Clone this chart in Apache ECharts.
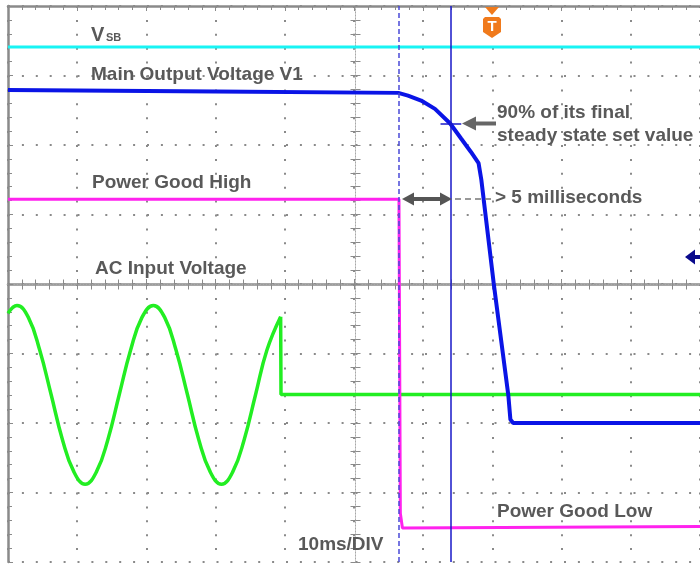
<!DOCTYPE html>
<html>
<head>
<meta charset="utf-8">
<script src="https://cdn.jsdelivr.net/npm/echarts@6/dist/echarts.min.js"></script>
<style>
html,body{margin:0;padding:0;background:#fff;}
#chart{width:700px;height:565px;}
</style>
</head>
<body>
<div id="chart"></div>
<script>
// ---- data (time in ms, amplitude in divisions) ----
const vsb = [[0, 3.41], [100, 3.41]];
const v1 = [[0, 2.79], [30, 2.77], [56.4, 2.75], [57.8, 2.71], [59.7, 2.64], [61.7, 2.52], [63.9, 2.31],
            [65.5, 2.09], [66.9, 1.9], [68.0, 1.74], [68.4, 1.5], [70.2, 0.0], [72.3, -1.6],
            [72.6, -1.95], [73.0, -2.0], [100, -2.0]];
const pgood = [[0, 1.22], [56.5, 1.22], [56.7, -3.3], [57.0, -3.51], [100, -3.49]];
const acOn = [[0, -0.42], [1.3, -0.31], [2.94, -0.48], [4.58, -0.95], [6.23, -1.59], [7.87, -2.24],
              [9.51, -2.70], [11.15, -2.88], [12.79, -2.70], [14.43, -2.24], [16.08, -1.59],
              [17.72, -0.95], [19.36, -0.48], [21.0, -0.31], [22.64, -0.48], [24.28, -0.95],
              [25.93, -1.59], [27.57, -2.24], [29.21, -2.70], [30.85, -2.88], [32.49, -2.70],
              [34.13, -2.24], [35.78, -1.59], [37.42, -0.95], [39.4, -0.47]];
const acOff = [[39.4, -0.47], [39.45, -1.59], [100, -1.59]];
const cursorA = 56.5;   // dashed cursor (ms)
const cursorB = 64.0;   // solid cursor (ms)
const crossY = 2.31;    // 90% level (div)
const crossX = [62.5, 65.5];
const xTicks = [0, 100, 10];  // min, max, interval (10 ms / div)
const yTicks = [-4, 4, 1];

const chart = echarts.init(document.getElementById('chart'), null, {renderer: 'canvas'});
const gridCol = '#8a8a8a';
const FONT = '"Liberation Sans", Arial, sans-serif';
const TXT = '#595959';

function borderAxis(extra) {
  return Object.assign({
    type: 'value', min: xTicks[0], max: xTicks[1], interval: xTicks[2],
    axisLine: {show: true, lineStyle: {color: gridCol, width: 2.5}},
    axisTick: {show: true, inside: true, length: 5, lineStyle: {color: gridCol, width: 1}},
    minorTick: {show: true, splitNumber: 5, length: 4, lineStyle: {color: gridCol, width: 1}},
    axisLabel: {show: false},
    splitLine: {show: false}
  }, extra);
}
function centerAxis(extra) {
  return Object.assign({
    type: 'value',
    axisLine: {show: true, onZero: false, lineStyle: {color: '#a8a8a8', width: 1, type: [1, 2]}},
    axisTick: {show: true, inside: true, length: 5, lineStyle: {color: '#8a8a8a', width: 1}},
    minorTick: {show: true, splitNumber: 5, length: 5, lineStyle: {color: '#8a8a8a', width: 1}},
    axisLabel: {show: false},
    splitLine: {show: false}
  }, extra);
}
const hidden = (gi, min, max) => ({type: 'value', gridIndex: gi, show: false, min: min, max: max});

function lineSeries(name, data, color, width, extra) {
  return Object.assign({
    name: name, type: 'line', data: data, xAxisIndex: 0, yAxisIndex: 0,
    showSymbol: false, symbol: 'none', animation: false,
    lineStyle: {color: color, width: width}, z: 3
  }, extra || {});
}

function txt(text, x, y, size, extra) {
  return Object.assign({
    type: 'text', z: 50,
    style: {text: text, x: x, y: y, fill: TXT, font: 'bold ' + size + 'px ' + FONT,
            align: 'left', verticalAlign: 'middle', textAlign: 'left', textVerticalAlign: 'middle'}
  }, extra || {});
}

const option = {
  backgroundColor: '#ffffff',
  animation: false,
  grid: [
    {left: 8, top: 6, width: 695, height: 556},
    {left: 8, top: 6, width: 695, height: 278.5},
    {left: 8, top: 284.5, width: 695, height: 277.5},
    {left: 8, top: 6, width: 347.5, height: 556},
    {left: 355.5, top: 6, width: 347.5, height: 556}
  ],
  xAxis: [
    borderAxis({gridIndex: 0, position: 'bottom',
      splitLine: {show: true, lineStyle: {color: gridCol, width: 2, type: [2, 11.9]}}}),
    borderAxis({gridIndex: 0, position: 'top'}),
    centerAxis({gridIndex: 1, position: 'bottom', min: 0, max: 100, interval: 10}),
    centerAxis({gridIndex: 2, position: 'top', min: 0, max: 100, interval: 10}),
    hidden(3, 0, 1),
    hidden(4, 0, 1)
  ],
  yAxis: [
    borderAxis({gridIndex: 0, position: 'left', min: yTicks[0], max: yTicks[1], interval: yTicks[2],
      splitLine: {show: true, lineStyle: {color: gridCol, width: 2, type: [2, 11.9]}}}),
    hidden(1, 0, 1),
    hidden(2, 0, 1),
    centerAxis({gridIndex: 3, position: 'right', min: -4, max: 4, interval: 1}),
    centerAxis({gridIndex: 4, position: 'left', min: -4, max: 4, interval: 1})
  ],
  series: [
    lineSeries('VSB', vsb, '#18f4f4', 3),
    lineSeries('AC on', acOn, '#22ee22', 3.5, {smooth: 0.45}),
    lineSeries('AC off', acOff, '#22ee22', 3.5),
    lineSeries('Power Good', pgood, '#ff22ee', 3),
    lineSeries('V1', v1, '#0a14e6', 4, {z: 4}),
    {
      name: 'cursors', type: 'line', data: [], xAxisIndex: 0, yAxisIndex: 0, z: 5,
      markLine: {
        silent: true, symbol: ['none', 'none'], animation: false, label: {show: false},
        data: [
          {xAxis: cursorA, lineStyle: {color: '#4a4ad8', width: 1.5, type: [5, 3]}},
          {xAxis: cursorB, lineStyle: {color: '#1818c8', width: 1.5, type: 'solid'}},
          [{coord: [crossX[0], crossY], lineStyle: {color: '#1818c8', width: 1.5, type: 'solid'}},
           {coord: [crossX[1], crossY]}]
        ]
      }
    }
  ],
  graphic: [
    txt('V', 91, 35, 20),
    txt('SB', 106, 38, 11),
    txt('Main Output Voltage V1', 91, 75, 19),
    txt('Power Good High', 92, 183, 19),
    txt('AC Input Voltage', 95, 269, 19),
    txt('90% of its final', 497, 113, 19),
    txt('steady state set value', 497, 136, 19),
    txt('> 5 milliseconds', 495, 198, 19),
    txt('Power Good Low', 497, 512, 19),
    txt('10ms/DIV', 298, 545, 19),
    // 90% arrow
    {type: 'line', z: 40, shape: {x1: 496, y1: 123.5, x2: 472, y2: 123.5}, style: {stroke: '#666', lineWidth: 4}},
    {type: 'polygon', z: 40, shape: {points: [[462, 123.5], [476, 116.5], [476, 130.5]]}, style: {fill: '#666'}},
    // double arrow
    {type: 'line', z: 40, shape: {x1: 410, y1: 199, x2: 444, y2: 199}, style: {stroke: '#555', lineWidth: 4}},
    {type: 'polygon', z: 40, shape: {points: [[402, 199], [414, 192.5], [414, 205.5]]}, style: {fill: '#555'}},
    {type: 'polygon', z: 40, shape: {points: [[452, 199], [440, 192.5], [440, 205.5]]}, style: {fill: '#555'}},
    {type: 'line', z: 40, shape: {x1: 455, y1: 199, x2: 494, y2: 199}, style: {stroke: '#777', lineWidth: 1.5, lineDash: [6, 4]}},
    // trigger marker
    {type: 'polygon', z: 40, shape: {points: [[485, 7], [499, 7], [492, 15]]}, style: {fill: '#f07a1c'}},
    {type: 'polygon', z: 40, shape: {points: [[485, 17], [499, 17], [501, 19], [501, 32], [492, 38], [483, 32], [483, 19]]}, style: {fill: '#f07a1c'}},
    {type: 'text', z: 41, style: {text: 'T', x: 492, y: 27, fill: '#ffffff', font: 'bold 15px ' + FONT,
      align: 'center', verticalAlign: 'middle', textAlign: 'center', textVerticalAlign: 'middle'}},
    // channel marker right
    {type: 'polygon', z: 40, shape: {points: [[685, 257], [695, 249.5], [695, 264.5]]}, style: {fill: '#0a0a8c'}},
    {type: 'rect', z: 40, shape: {x: 694, y: 255, width: 8, height: 4}, style: {fill: '#0a0a8c'}}
  ]
};
chart.setOption(option);
</script>
</body>
</html>
